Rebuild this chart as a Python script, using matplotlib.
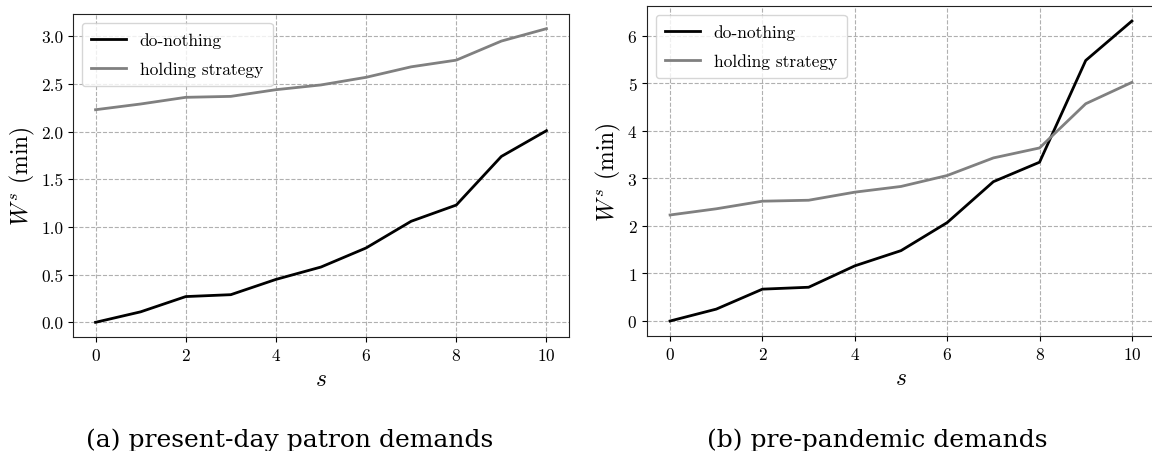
import matplotlib
matplotlib.use("Agg")
import matplotlib.pyplot as plt

plt.rcParams['font.family'] = 'serif'
plt.rcParams['font.serif'] = ['cmr10']
plt.rcParams['mathtext.fontset'] = 'cm'
plt.rcParams['axes.formatter.use_mathtext'] = True
plt.rcParams['axes.unicode_minus'] = False

s = list(range(11))
a_do_nothing = [0.0, 0.11, 0.27, 0.29, 0.45, 0.58, 0.78, 1.06, 1.23, 1.74, 2.01]
a_holding = [2.23, 2.29, 2.36, 2.37, 2.44, 2.49, 2.57, 2.68, 2.75, 2.95, 3.08]
b_do_nothing = [0.0, 0.25, 0.67, 0.71, 1.16, 1.48, 2.07, 2.93, 3.34, 5.48, 6.31]
b_holding = [2.23, 2.36, 2.52, 2.54, 2.71, 2.83, 3.06, 3.43, 3.64, 4.57, 5.02]
a_yticks = ['0.0', '0.5', '1.0', '1.5', '2.0', '2.5', '3.0']
captions = ["(a) present-day patron demands", "(b) pre-pandemic demands"]

W, H = 1152, 452
fig = plt.figure(figsize=(W / 100, H / 100), dpi=100)

def box(l, r, t, b):
    return [l / W, 1 - b / H, (r - l) / W, (b - t) / H]

ax1 = fig.add_axes(box(73, 569, 15, 338))
ax2 = fig.add_axes(box(647, 1155, 7, 337))

for ax, dn, hs in [(ax1, a_do_nothing, a_holding), (ax2, b_do_nothing, b_holding)]:
    ax.plot(s, dn, color='black', lw=2, label='do-nothing')
    ax.plot(s, hs, color='#808080', lw=2, label='holding strategy')
    ax.grid(True, linestyle='--', color='#b0b0b0', lw=0.8)
    ax.set_axisbelow(True)
    ax.set_xticks([0, 2, 4, 6, 8, 10])
    ax.tick_params(labelsize=12.5)
    ax.set_xlabel('$s$', fontsize=17, labelpad=4)
    ax.set_ylabel('$W^s$ (min)', fontsize=17, labelpad=3)
    ax.legend(loc='upper left', fontsize=12.5, fancybox=True, framealpha=0.8,
              labelspacing=0.75, borderpad=0.55)
    for sp in ax.spines.values():
        sp.set_color('#222222')

ax1.set_yticks([float(t) for t in a_yticks])
ax1.set_yticklabels(a_yticks)

fig.text(290 / W, 1 - 447 / H, captions[0], ha='center', va='baseline',
         fontsize=18, family='DejaVu Serif')
fig.text(877 / W, 1 - 447 / H, captions[1], ha='center', va='baseline',
         fontsize=18, family='DejaVu Serif')

fig.savefig('out.png', dpi=100)
